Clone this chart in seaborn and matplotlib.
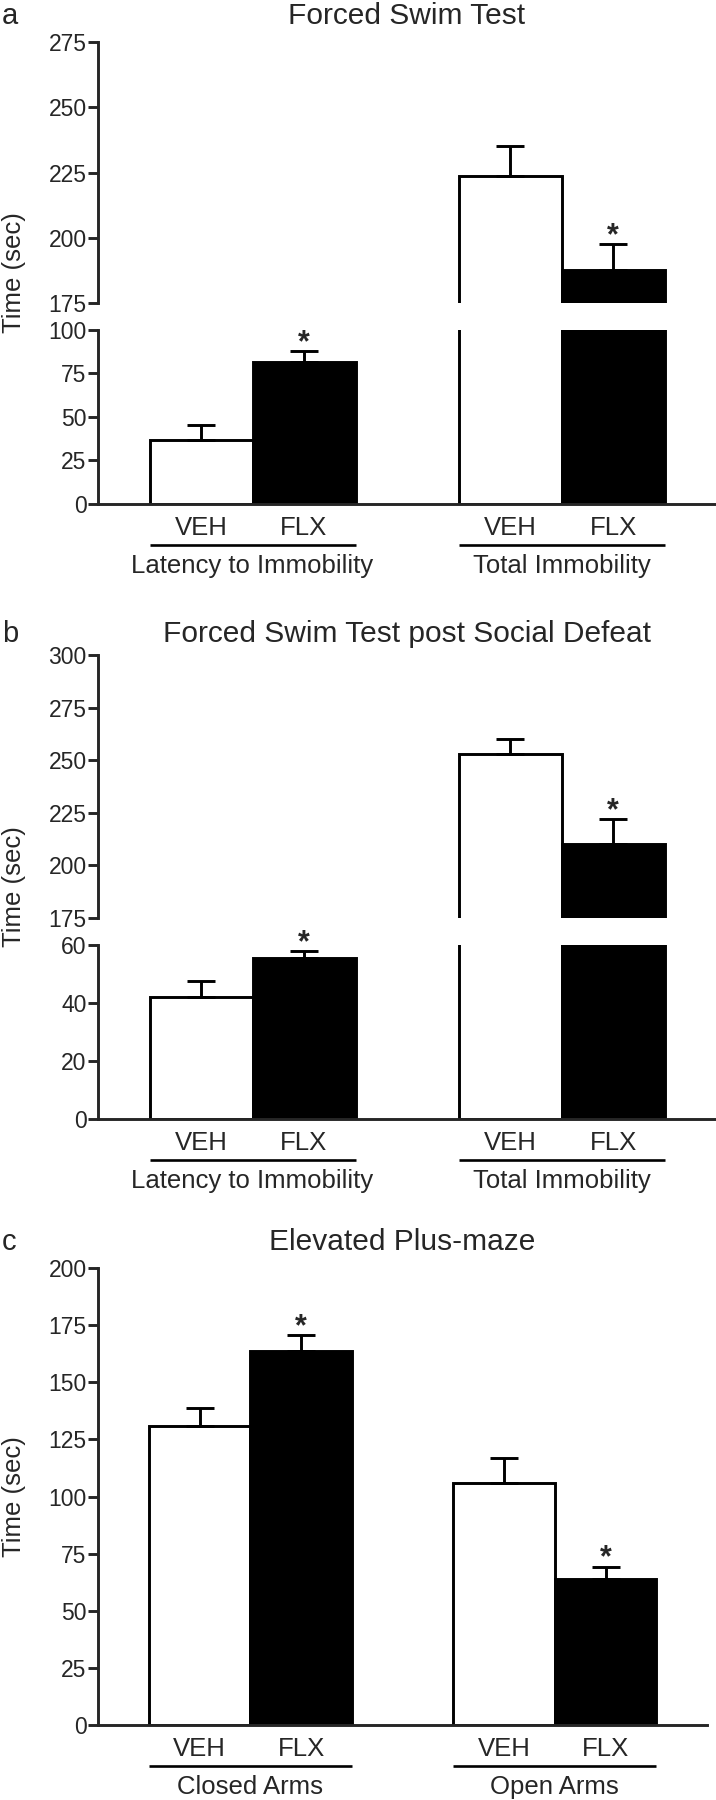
import matplotlib
matplotlib.use('Agg')
import matplotlib.pyplot as plt
import matplotlib.transforms as mtransforms
import numpy as np
import pandas as pd
import seaborn as sns

sns.set_style('ticks')
plt.rcParams['font.family'] = ['Liberation Sans', 'DejaVu Sans']

W, H = 716, 1800
LW = 2.1

treatments = ['VEH', 'FLX']
colors = {'VEH': 'white', 'FLX': 'black'}

# ── a: Forced Swim Test ───────────────────────────────────────────────────
a_title = 'Forced Swim Test'
a_groups = ['Latency to Immobility', 'Total Immobility']
a_mean = [36.5, 81.5, 223.5, 187.8]
a_sem = [9.0, 6.2, 11.5, 9.9]
a_star = [False, True, False, True]
a_hi_ticks = [175, 200, 225, 250, 275]
a_lo_ticks = [0, 25, 50, 75, 100]

# ── b: Forced Swim Test post Social Defeat ────────────────────────────────
b_title = 'Forced Swim Test post Social Defeat'
b_groups = ['Latency to Immobility', 'Total Immobility']
b_mean = [41.9, 55.5, 252.8, 210.0]
b_sem = [5.7, 2.2, 7.2, 11.9]
b_star = [False, True, False, True]
b_hi_ticks = [175, 200, 225, 250, 275, 300]
b_lo_ticks = [0, 20, 40, 60]

# ── c: Elevated Plus-maze ─────────────────────────────────────────────────
c_title = 'Elevated Plus-maze'
c_groups = ['Closed Arms', 'Open Arms']
c_mean = [131.0, 163.6, 106.1, 63.8]
c_sem = [7.9, 7.1, 10.7, 5.5]
c_star = [False, True, False, True]
c_ticks = [0, 25, 50, 75, 100, 125, 150, 175, 200]

fig = plt.figure(figsize=(W / 100, H / 100), dpi=100)


def px_rect(left, top, right, bottom):
    return [left / W, 1 - bottom / H, (right - left) / W, (bottom - top) / H]


def make_frame(groups, means, sems):
    rows = []
    for i, g in enumerate(groups):
        for j, t in enumerate(treatments):
            k = 2 * i + j
            rows.append({'slot': f'{g}|{t}', 'treatment': t,
                         'time': means[k], 'sem': sems[k]})
    df = pd.DataFrame(rows)
    order = [f'{groups[0]}|{t}' for t in treatments] + [''] + \
            [f'{groups[1]}|{t}' for t in treatments]
    return df, order


def style_axis(ax, ticks, ylim, bottom=True):
    ax.set_ylim(*ylim)
    ax.set_xlim(-1, 5)
    ax.set_yticks(ticks)
    ax.set_ylabel('')
    ax.set_xlabel('')
    for side in ['top', 'right']:
        ax.spines[side].set_visible(False)
    ax.spines['left'].set_linewidth(LW)
    ax.spines['bottom'].set_linewidth(LW)
    if not bottom:
        ax.spines['bottom'].set_visible(False)
        ax.set_xticks([])
    ax.tick_params(axis='y', direction='out', length=7, width=LW,
                   pad=1.2, labelsize=16.5)
    ax.patch.set_alpha(0)


def draw_bars(ax, df, order, stars):
    sns.barplot(data=df, x='slot', y='time', hue='treatment', order=order,
                hue_order=treatments, palette=colors, dodge=False, width=1.0,
                saturation=1, edgecolor='black', linewidth=LW,
                errorbar=None, legend=False, ax=ax)
    pos = [order.index(s) for s in df['slot']]
    ax.errorbar(pos, df['time'], yerr=[np.zeros(len(df)), df['sem']],
                fmt='none', ecolor='black', elinewidth=LW, capsize=10,
                capthick=LW, zorder=3)
    for p, m, s, st in zip(pos, df['time'], df['sem'], stars):
        if st:
            ax.annotate('*', xy=(p, m + s), xytext=(0, 0),
                        textcoords='offset points', ha='center',
                        va='baseline', fontsize=22, fontweight='bold')


def group_labels(ax, groups, order):
    ax.set_xticks(range(len(order)))
    ax.set_xticklabels([s.split('|')[-1] for s in order])
    ax.tick_params(axis='x', length=0, pad=9, labelsize=18.5)
    tr_line = mtransforms.offset_copy(ax.get_xaxis_transform(), fig=fig,
                                      y=-41, units='dots')
    tr_text = mtransforms.offset_copy(ax.get_xaxis_transform(), fig=fig,
                                      y=-50, units='dots')
    for g in groups:
        lo = order.index(f'{g}|VEH') - 0.5
        hi = order.index(f'{g}|FLX') + 0.5
        ax.plot([lo, hi], [0, 0], transform=tr_line, color='black',
                lw=1.9, clip_on=False, solid_capstyle='butt')
        ax.text((lo + hi) / 2, 0, g, transform=tr_text, ha='center',
                va='top', fontsize=18.5)


def panel_text(letter, title, ax, title_base, mid_y):
    fig.text(2 / W, 1 - title_base / H, letter, fontsize=21, va='baseline')
    bb = ax.get_position()
    fig.text((bb.x0 + bb.x1) / 2, 1 - title_base / H, title, fontsize=21.5,
             ha='center', va='baseline')
    fig.text(14 / W, 1 - mid_y / H, 'Time (sec)', rotation=90, fontsize=18.5,
             ha='center', va='center')


def broken_panel(rect_hi, rect_lo, groups, means, sems, stars,
                 hi_ticks, lo_ticks):
    df, order = make_frame(groups, means, sems)
    ax_hi = fig.add_axes(rect_hi)
    ax_lo = fig.add_axes(rect_lo)
    for ax in [ax_hi, ax_lo]:
        draw_bars(ax, df, order, stars)
    style_axis(ax_hi, hi_ticks, (hi_ticks[0], hi_ticks[-1]), bottom=False)
    style_axis(ax_lo, lo_ticks, (lo_ticks[0], lo_ticks[-1]))
    group_labels(ax_lo, groups, order)
    return ax_hi


# panel a
ax_a = broken_panel(px_rect(98, 42, 716, 303), px_rect(98, 330, 716, 503.6),
                    a_groups, a_mean, a_sem, a_star, a_hi_ticks, a_lo_ticks)
panel_text('a', a_title, ax_a, 24, 273)

# panel b
ax_b = broken_panel(px_rect(98, 655.4, 716, 917.7),
                    px_rect(98, 944.8, 716, 1118.6),
                    b_groups, b_mean, b_sem, b_star, b_hi_ticks, b_lo_ticks)
panel_text('b', b_title, ax_b, 642, 887)

# panel c
df_c, order_c = make_frame(c_groups, c_mean, c_sem)
ax_c = fig.add_axes(px_rect(98, 1268.4, 707, 1724.6))
draw_bars(ax_c, df_c, order_c, c_star)
style_axis(ax_c, c_ticks, (0, 200))
group_labels(ax_c, c_groups, order_c)
panel_text('c', c_title, ax_c, 1250, 1496.5)

fig.savefig('out.png', dpi=100)
